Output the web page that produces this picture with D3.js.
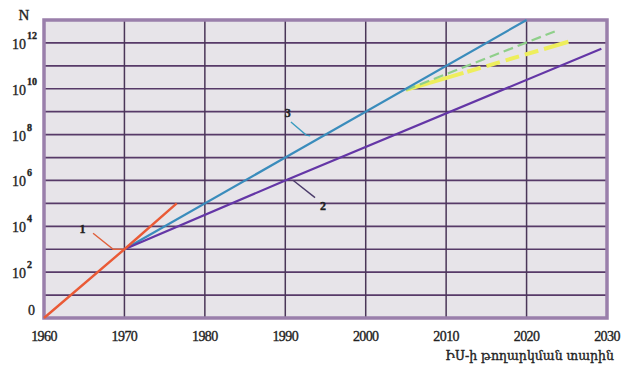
<!DOCTYPE html>
<html>
<head>
<meta charset="utf-8">
<script src="https://cdn.jsdelivr.net/npm/d3@7"></script>
<style>
  body { margin: 0; background: #fff; }
  svg text { font-family: 'Liberation Serif', 'DejaVu Serif', serif; fill: #222; stroke: #222; stroke-width: 0.35px; }
</style>
</head>
<body>
<div class="chart"></div>
<script>
// data: years vs. exponent of N (10^k)
const yearTicks = [1960, 1970, 1980, 1990, 2000, 2010, 2020, 2030];
const expLabels = [0, 2, 4, 6, 8, 10, 12];

const line1 = [[1960, 0], [1970, 3], [1976.5, 5]];          // red, "1"
const line3 = [[1970, 3], [1990, 7], [2020, 13]];            // blue, "3"
const line2 = [[1970, 3], [1990, 6], [2029.3, 11.75]];       // purple, "2"
const lineGreen = [[2005, 9.95], [2023.5, 12.5]];
const lineYellow = [[2005, 9.95], [2025.2, 12.05]];

// leader lines + labels (in data units)
const notes = [
  {text: '1', at: [1964.8, 3.9], path: [[1966.1, 3.7], [1968.6, 3.0], [1969.8, 3.0]], color: '#e0603c'},
  {text: '3', at: [1990.3, 8.95], path: [[1990.7, 8.55], [1992.6, 7.98], [1993.1, 7.95]], color: '#3a9cc0'},
  {text: '2', at: [1994.7, 4.9], path: [[1991, 6.0], [1993.7, 5.25]], color: '#4a3a6a'}
];

const w = 621, h = 369;
const x = d3.scaleLinear().domain([1960, 2030]).range([44, 607]);
const y = d3.scaleLinear().domain([0, 13]).range([318, 20]);

const svg = d3.select('.chart').append('svg')
  .attr('width', w).attr('height', h);

// plot background
svg.append('rect')
  .attr('x', x(1960)).attr('y', y(13))
  .attr('width', x(2030) - x(1960)).attr('height', y(0) - y(13))
  .attr('fill', '#e7e4e9');

// grid
svg.append('g').selectAll('line')
  .data(d3.range(1, 13))
  .join('line')
  .attr('x1', x(1960)).attr('x2', x(2030))
  .attr('y1', d => y(d)).attr('y2', d => y(d))
  .attr('stroke', '#573a68').attr('stroke-width', 1.7);

svg.append('g').selectAll('line')
  .data(yearTicks.slice(1, -1))
  .join('line')
  .attr('y1', y(0)).attr('y2', y(13))
  .attr('x1', d => x(d)).attr('x2', d => x(d))
  .attr('stroke', '#4a3658').attr('stroke-width', 1.5);

// frame
svg.append('rect')
  .attr('x', x(1960)).attr('y', y(13))
  .attr('width', x(2030) - x(1960)).attr('height', y(0) - y(13))
  .attr('fill', 'none')
  .attr('stroke', '#9a7fab').attr('stroke-width', 3.5);

const line = d3.line().x(d => x(d[0])).y(d => y(d[1]));

svg.append('path').datum(lineYellow).attr('d', line)
  .attr('fill', 'none').attr('stroke', '#eeee5c').attr('stroke-width', 4)
  .attr('stroke-dasharray', '60,4,14,6,14,6,14,6,14,6,30');
svg.append('path').datum(lineGreen).attr('d', line)
  .attr('fill', 'none').attr('stroke', '#8fcf8a').attr('stroke-width', 2.2)
  .attr('stroke-dasharray', '10,5');
svg.append('path').datum(line3).attr('d', line)
  .attr('fill', 'none').attr('stroke', '#3a8cbc').attr('stroke-width', 2.2);
svg.append('path').datum(line2).attr('d', line)
  .attr('fill', 'none').attr('stroke', '#6436a6').attr('stroke-width', 2.2);
svg.append('path').datum(line1).attr('d', line)
  .attr('fill', 'none').attr('stroke', '#ea5a36').attr('stroke-width', 2.4);

// annotations
notes.forEach(n => {
  svg.append('path').datum(n.path).attr('d', line)
    .attr('fill', 'none').attr('stroke', n.color).attr('stroke-width', 1.4);
  svg.append('text')
    .attr('x', x(n.at[0])).attr('y', y(n.at[1]))
    .attr('text-anchor', 'middle').attr('dy', '0.35em')
    .style('font-size', '12px').style('font-weight', 'bold')
    .text(n.text);
});

// x tick labels
svg.append('g').selectAll('text')
  .data(yearTicks)
  .join('text')
  .attr('x', d => x(d)).attr('y', 341)
  .attr('text-anchor', 'middle')
  .style('font-size', '14px').style('letter-spacing', '-0.6px')
  .text(d => d);

// y tick labels
const yl = svg.append('g').selectAll('text')
  .data(expLabels)
  .join('text')
  .attr('y', d => d === 0 ? y(d) - 3 : y(d) + 6)
  .attr('x', d => d === 0 ? 28 : 12)
  .style('font-size', '14px');
yl.each(function(d) {
  const t = d3.select(this);
  if (d === 0) { t.text('0'); return; }
  t.append('tspan').text('10');
  t.append('tspan').attr('dx', 1).attr('dy', -10)
    .style('font-size', '10px').style('font-weight', 'bold').text(d);
});

// axis titles
svg.append('text').attr('x', 24).attr('y', 20)
  .attr('text-anchor', 'middle').style('font-size', '15px').text('N');
svg.append('text').attr('x', 614).attr('y', 360)
  .attr('text-anchor', 'end')
  .style('font-family', "'DejaVu Serif', serif").style('font-size', '12.5px')
  .text('ԻՍ-ի թողարկման տարին');
</script>
</body>
</html>
